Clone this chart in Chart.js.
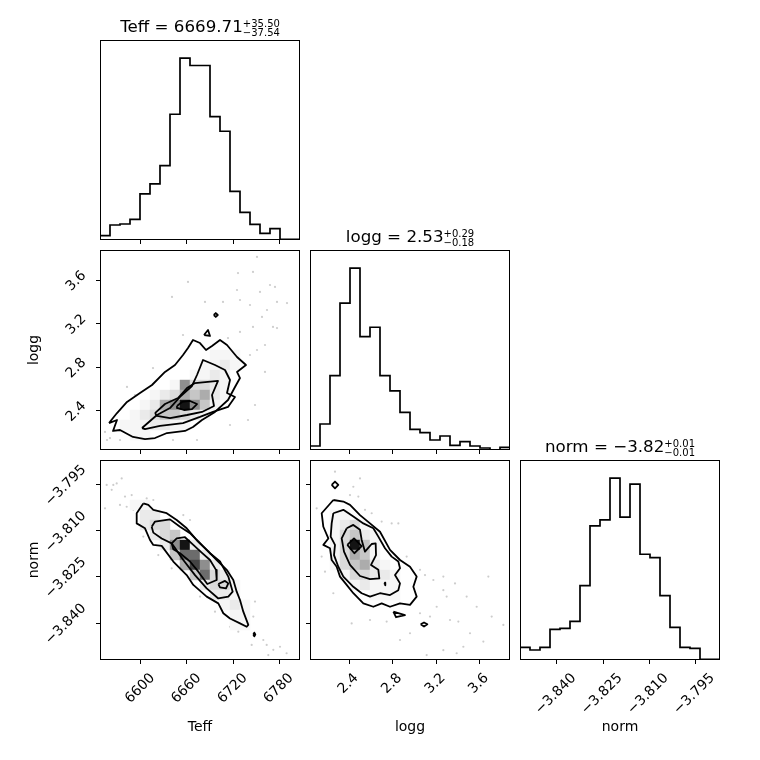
<!DOCTYPE html>
<html>
<head>
<meta charset="utf-8">
<script src="https://cdn.jsdelivr.net/npm/chart.js@4/dist/chart.umd.min.js"></script>
<style>
  body { margin: 0; background: #fff; }
  #fig { position: relative; width: 760px; height: 760px; font-family: 'DejaVu Sans', sans-serif; color: #000; overflow: hidden; }
  #fig canvas { position: absolute; }
  .title { position: absolute; width: 200px; text-align: center; font-size: 16.7px; line-height: 1; white-space: nowrap; z-index: 5; }
  .pm { display: inline-block; font-size: 10px; line-height: 9px; vertical-align: -4px; text-align: left; }
  .pm span { display: block; }
  .xlab { position: absolute; width: 200px; text-align: center; font-size: 14px; line-height: 1; top: 719px; z-index: 5; }
  .ylab { position: absolute; font-size: 14px; line-height: 1; white-space: nowrap; transform: translate(-50%, -50%) rotate(-90deg); z-index: 5; }
</style>
</head>
<body>
<div id="fig">
  <div class="title" style="left:100px;top:17.5px">Teff = 6669.71<span class="pm"><span>+35.50</span><span>−37.54</span></span></div>
  <div class="title" style="left:310px;top:227.5px">logg = 2.53<span class="pm"><span>+0.29</span><span>−0.18</span></span></div>
  <div class="title" style="left:520px;top:437.5px">norm = −3.82<span class="pm"><span>+0.01</span><span>−0.01</span></span></div>
  <div class="ylab" style="left:33px;top:350px">logg</div>
  <div class="ylab" style="left:33px;top:560px">norm</div>
  <div class="xlab" style="left:100px">Teff</div>
  <div class="xlab" style="left:310px">logg</div>
  <div class="xlab" style="left:520px">norm</div>
</div>
<script>
// axis limits and ticks
const teffRange = [6547, 6807]
const loggRange = [2.04, 3.88]
const normRange = [-3.852, -3.787]

const teffTicks = [6600, 6660, 6720, 6780]
const loggTicks = [2.4, 2.8, 3.2, 3.6]
const normTicks = [-3.840, -3.825, -3.810, -3.795]

// 1D histograms, 20 bins across each range
const teffCounts = [13, 45, 48, 62, 138, 168, 223, 377, 545, 523, 523, 370, 326, 146, 83, 47, 20, 34, 2, 2]
const loggCounts = [12, 78, 223, 440, 545, 340, 368, 223, 177, 113, 62, 52, 30, 42, 14, 25, 12, 6, 0, 8]
const normCounts = [38, 30, 38, 92, 95, 116, 223, 402, 420, 545, 428, 527, 317, 307, 193, 98, 38, 35, 2, 2]

// 2D histograms, 20x20 bins, top row first, 0 = white .. 9 = black
const teffLoggShade = [
  "00000000000000000000", "00000000000000000000", "00000000000000000000", "00000000000000000000",
  "00000000000000000000", "00000000000000000000", "00000000000000000000", "00000000000000000000",
  "00000000000000000000", "00000000000000000000", "00000000000111000000", "00000000001121000000",
  "00000000011210000000", "00000001633210000000", "00000123545210000000", "00001256964100000000",
  "00012344321000000000", "00111221100000000000", "00011000000000000000", "00000000000000000000"
]
const teffNormShade = [
  "00000000000000000000", "00000000000000000000", "00000000000000000000", "00000000000000000000",
  "00011000000000000000", "00002200000000000000", "00002330000000000000", "00000234000000000000",
  "00000026920000000000", "00000004772000000000", "00000000586200000000", "00000000047320000000",
  "00000000002331000000", "00000000000221000000", "00000000000012100000", "00000000000001100000",
  "00000000000001100000", "00000000000000000000", "00000000000000000000", "00000000000000000000"
]
const loggNormShade = [
  "00000000000000000000", "00000000000000000000", "00000000000000000000", "00000000000000000000",
  "00000000000000000000", "00110000000000000000", "00123100000000000000", "00134210000000000000",
  "00139410000000000000", "00135410000000000000", "00134521000000000000", "00013322100000000000",
  "00001211100000000000", "00000011100000000000", "00000000000000000000", "00000000000000000000",
  "00000000000000000000", "00000000000000000000", "00000000000000000000", "00000000000000000000"
]

// contour levels (2, 1.5, 1, 0.5 sigma) and small islands
const teffLoggContours = [
  [[6558.7,2.288],[6569.1,2.316],[6563.9,2.215],[6573,2.224],[6589.9,2.160],[6605.5,2.141],[6618.5,2.150],[6634.1,2.196],[6647.1,2.206],[6657.5,2.215],[6667.9,2.252],[6679.6,2.316],[6696.5,2.390],[6713.4,2.500],[6722.5,2.620],[6729,2.702],[6725.1,2.758],[6736.8,2.822],[6725.1,2.896],[6712.1,3.006],[6703,3.052],[6692.6,2.997],[6684.8,2.960],[6677,3.024],[6667.9,3.052],[6661.4,2.978],[6654.9,2.914],[6644.5,2.822],[6631.5,2.758],[6614.6,2.638],[6599,2.564],[6582.1,2.482],[6569.1,2.380]],
  [[6601.6,2.242],[6621.1,2.362],[6638,2.426],[6651,2.528],[6666.6,2.629],[6673.1,2.730],[6680.9,2.868],[6696.5,2.822],[6709.5,2.776],[6716,2.684],[6712.1,2.564],[6722.5,2.528],[6713.4,2.436],[6693.9,2.390],[6677,2.344],[6654.9,2.288],[6625,2.261],[6605.5,2.233]],
  [[6618.5,2.380],[6631.5,2.463],[6648.4,2.518],[6660.1,2.610],[6670.5,2.656],[6700.4,2.675],[6692.6,2.546],[6695.2,2.445],[6679.6,2.390],[6660.1,2.362],[6638,2.334],[6621.1,2.353]],
  [[6647.1,2.445],[6653.6,2.482],[6664,2.491],[6673.1,2.463],[6666.6,2.417],[6656.2,2.408],[6648.4,2.426]],
  [[6682.2,3.098],[6687.4,3.144],[6690,3.089]],
  [[6694.9,3.282],[6697.5,3.300],[6700.1,3.282],[6697.5,3.264]]
]
const teffNormContours = [
  [[6603.3,-3.8011],[6594.7,-3.8043],[6594.7,-3.8076],[6605.5,-3.8092],[6612,-3.8130],[6616.3,-3.8146],[6627.2,-3.8149],[6642.3,-3.8200],[6659.7,-3.8244],[6668.3,-3.8276],[6685.7,-3.8314],[6700.8,-3.8336],[6707.3,-3.8368],[6716,-3.8385],[6729,-3.8401],[6737.7,-3.8412],[6739.8,-3.8406],[6733.3,-3.8363],[6729,-3.8325],[6724.7,-3.8298],[6720.3,-3.8260],[6711.7,-3.8227],[6698.7,-3.8195],[6685.7,-3.8162],[6672.7,-3.8130],[6659.7,-3.8092],[6646.7,-3.8065],[6633.7,-3.8043],[6616.3,-3.8032],[6609.8,-3.8016]],
  [[6614.2,-3.8087],[6618.5,-3.8070],[6638,-3.8063],[6651,-3.8087],[6664,-3.8108],[6677,-3.8141],[6690,-3.8173],[6703,-3.8200],[6713.8,-3.8249],[6719.5,-3.8298],[6713.8,-3.8314],[6700.8,-3.8320],[6685.7,-3.8287],[6670.5,-3.8244],[6655.3,-3.8195],[6640.2,-3.8141],[6627.2,-3.8125],[6616.3,-3.8106]],
  [[6640.2,-3.8141],[6646.7,-3.8125],[6657.5,-3.8121],[6668.3,-3.8146],[6679.2,-3.8171],[6690,-3.8195],[6697.8,-3.8227],[6698.7,-3.8260],[6686.5,-3.8273],[6674.8,-3.8233],[6664,-3.8200],[6651,-3.8173],[6642.3,-3.8160]],
  [[6700.8,-3.8273],[6709.5,-3.8263],[6713.8,-3.8271],[6710.8,-3.8287],[6703,-3.8284]],
  [[6746.3,-3.8437],[6747.6,-3.8431],[6748.9,-3.8437],[6747.6,-3.8443]]
]
const loggNormContours = [
  [[2.2547,-3.8000],[2.3467,-3.8005],[2.408,-3.8016],[2.500,-3.8049],[2.592,-3.8076],[2.684,-3.8103],[2.776,-3.8162],[2.868,-3.8195],[2.960,-3.8217],[3.0213,-3.8249],[2.9907,-3.8282],[3.0213,-3.8314],[2.960,-3.8341],[2.868,-3.8336],[2.776,-3.8347],[2.6994,-3.8336],[2.6227,-3.8347],[2.5307,-3.8336],[2.4387,-3.8303],[2.3774,-3.8276],[2.316,-3.8249],[2.2854,-3.8217],[2.2394,-3.8195],[2.224,-3.8157],[2.1627,-3.8146],[2.2087,-3.8125],[2.1627,-3.8087],[2.1474,-3.8043]],
  [[2.2547,-3.8043],[2.3467,-3.8032],[2.4387,-3.8054],[2.5307,-3.8076],[2.6227,-3.8092],[2.6687,-3.8119],[2.730,-3.8157],[2.7914,-3.8184],[2.8527,-3.8200],[2.868,-3.8222],[2.822,-3.8244],[2.868,-3.8271],[2.8527,-3.8293],[2.776,-3.8309],[2.684,-3.8303],[2.592,-3.8314],[2.5154,-3.8303],[2.4387,-3.8282],[2.3467,-3.8249],[2.3007,-3.8217],[2.2608,-3.8179],[2.270,-3.8146],[2.2301,-3.8119],[2.2394,-3.8076]],
  [[2.3774,-3.8092],[2.4387,-3.8081],[2.500,-3.8097],[2.5154,-3.8130],[2.546,-3.8168],[2.6074,-3.8143],[2.6441,-3.8141],[2.6473,-3.8179],[2.6013,-3.8211],[2.6687,-3.8227],[2.678,-3.8255],[2.592,-3.8257],[2.500,-3.8247],[2.408,-3.8211],[2.3528,-3.8168],[2.3314,-3.8125]],
  [[2.3834,-3.8146],[2.4448,-3.8125],[2.5154,-3.8150],[2.4479,-3.8173]],
  [[2.2394,-3.7951],[2.27,-3.7940],[2.3007,-3.7951],[2.27,-3.7962]],
  [[2.8067,-3.8363],[2.914,-3.8374],[2.8313,-3.8381]],
  [[3.0582,-3.8404],[3.0889,-3.8398],[3.1196,-3.8404],[3.0889,-3.8411]],
  [[2.724,-3.8273],[2.730,-3.8269],[2.736,-3.8273],[2.730,-3.8277]]
]

// samples lying outside the outer contour
const teffLoggDots = [
  [6751.1,3.816],[6661.4,3.586],[6726.4,3.668],[6745.9,3.678],[6768,3.558],[6774.5,3.540],[6755,3.494],[6725.1,3.512],
  [6706.9,3.402],[6729,3.420],[6742,3.374],[6764.1,3.328],[6777.1,3.402],[6790.1,3.392],[6771.9,3.172],[6777.1,3.162],
  [6761.5,3.006],[6751.1,2.960],[6742,2.914],[6761.5,2.758],[6748.5,2.454],[6640.6,3.448],[6683.5,3.402],[6654.9,3.098],
  [6615.9,2.794],[6582.1,2.620],[6553.5,2.206],[6556.1,2.132],[6573,2.132],[6641.9,2.132],[6673.1,2.132],[6713.4,3.070],
  [6729,3.126],[6745.9,3.172],[6757.6,3.264],[6592.5,2.546],[6560,2.150],[6739.4,2.316],[6716,2.270]
]
const teffNormDots = [
  [6555.7,-3.7951],[6564.3,-3.7951],[6562.2,-3.7967],[6568.7,-3.7946],[6575.2,-3.7930],[6579.5,-3.7989],[6588.2,-3.7984],
  [6573,-3.8016],[6581.7,-3.8022],[6590.3,-3.8032],[6607.7,-3.7995],[6616.3,-3.8000],[6553.5,-3.8027],[6603.3,-3.8119],
  [6622.8,-3.8179],[6640.2,-3.8222],[6677,-3.8314],[6696.5,-3.8363],[6716,-3.8412],[6726.8,-3.8428],[6735.5,-3.8379],
  [6748.5,-3.8330],[6746.3,-3.8379],[6759.3,-3.8455],[6763.7,-3.8471],[6772.3,-3.8487],[6781,-3.8477],[6789.6,-3.8498],
  [6744.2,-3.8471],[6765.8,-3.8504],[6664,-3.8065],[6655.3,-3.8049]
]
const loggNormDots = [
  [2.27,-3.7908],[2.4387,-3.7957],[2.50,-3.7930],[2.408,-3.7984],[2.4847,-3.7989],[2.546,-3.8032],[2.6074,-3.8043],
  [2.6994,-3.8070],[2.7914,-3.8076],[2.8527,-3.8076],[2.1013,-3.8027],[2.1474,-3.8184],[2.178,-3.8233],[2.2547,-3.8303],
  [2.4233,-3.8401],[2.592,-3.8390],[2.7454,-3.8395],[3.052,-3.8227],[3.098,-3.8244],[3.1748,-3.8260],[3.2667,-3.8293],
  [3.2974,-3.8314],[3.2054,-3.8347],[3.052,-3.8368],[3.144,-3.8379],[3.3741,-3.8271],[3.4814,-3.8314],[3.5734,-3.8347],
  [3.6808,-3.8249],[3.7115,-3.8379],[3.8188,-3.8406],[3.328,-3.8390],[3.4047,-3.8395],[3.5121,-3.8433],[3.6348,-3.8460],
  [3.4508,-3.8477],[3.2667,-3.8488],[2.96,-3.8433],[2.868,-3.8455],[3.1134,-3.8504],[3.3894,-3.8498],[3.2667,-3.8249],[2.9294,-3.8184]
]

const greys = [255, 246, 234, 218, 198, 172, 142, 108, 68, 20]
const L = 100, T = 30, R = 30, B = 100, SIDE = 200
const tickFont = { family: 'DejaVu Sans', size: 13.9 }

const frame = {
  id: 'frame',
  afterDraw(chart) {
    const a = chart.chartArea
    const ctx = chart.ctx
    ctx.save()
    ctx.strokeStyle = '#000'
    ctx.lineWidth = 1
    ctx.strokeRect(Math.round(a.left) + 0.5, Math.round(a.top) + 0.5, Math.round(a.right - a.left) - 1, Math.round(a.bottom - a.top) - 1)
    ctx.restore()
  }
}

function makeCanvas(left, top) {
  const c = document.createElement('canvas')
  c.width = L + SIDE + R
  c.height = T + SIDE + B
  c.style.left = (left - L) + 'px'
  c.style.top = (top - T) + 'px'
  document.querySelector('#fig').appendChild(c)
  return c
}

function fmtTick(decimals) {
  return v => v.toFixed(decimals).replace('-', '\u2212')
}

function xAxis(range, ticks, showLabels, decimals, offset) {
  return {
    type: 'linear', min: range[0], max: range[1],
    afterBuildTicks: s => { s.ticks = ticks.map(v => ({ value: v })) },
    afterFit: s => { s.height = B },
    border: { display: false },
    grid: { drawOnChartArea: false, drawTicks: true, tickLength: 4, color: '#000', lineWidth: 1 },
    ticks: { display: showLabels, autoSkip: false, minRotation: 45, maxRotation: 45, padding: 6, labelOffset: offset,
      color: '#000', font: tickFont, callback: fmtTick(decimals) }
  }
}

function yAxis(range, ticks, showLabels, decimals, offset) {
  return {
    type: 'linear', min: range[0], max: range[1],
    afterBuildTicks: s => { s.ticks = ticks.map(v => ({ value: v })) },
    afterFit: s => { s.width = L },
    border: { display: false },
    grid: { drawOnChartArea: false, drawTicks: true, tickLength: 4, color: '#000', lineWidth: 1 },
    ticks: { display: showLabels, autoSkip: false, minRotation: 45, maxRotation: 45, padding: 12, labelOffset: offset,
      color: '#000', font: tickFont, callback: fmtTick(decimals) }
  }
}

function baseOptions(scales) {
  return {
    responsive: false, animation: false, events: [],
    layout: { padding: { top: T, right: R, left: 0, bottom: 0 } },
    plugins: { legend: { display: false }, tooltip: { enabled: false } },
    scales: scales
  }
}

function histChart(left, top, range, counts, xr) {
  const w = (range[1] - range[0]) / counts.length
  const pts = counts.map((c, i) => ({ x: range[0] + i * w, y: c }))
  pts.push({ x: range[1], y: counts[counts.length - 1] })
  new Chart(makeCanvas(left, top), {
    type: 'line',
    data: { datasets: [{ data: pts, stepped: true, borderColor: '#000', borderWidth: 1.7, pointRadius: 0, fill: false }] },
    options: baseOptions({
      x: xr,
      y: { type: 'linear', min: 0, max: Math.max(...counts) * 1.1, ticks: { display: false }, grid: { display: false },
        border: { display: false }, afterFit: s => { s.width = L } }
    }),
    plugins: [frame]
  })
}

function pairChart(left, top, xRange, yRange, shade, contours, dots, xr, yr) {
  const xw = (xRange[1] - xRange[0]) / 20
  const yw = (yRange[1] - yRange[0]) / 20
  const cells = []
  shade.forEach((row, r) => {
    row.split('').forEach((ch, c) => {
      const v = Number(ch)
      if (v > 0) cells.push({ x: xRange[0] + (c + 0.5) * xw, y: yRange[1] - (r + 0.5) * yw, shade: v })
    })
  })
  const datasets = contours.map(line => ({
    data: line.concat([line[0]]).map(p => ({ x: p[0], y: p[1] })),
    showLine: true, borderColor: '#000', borderWidth: 1.8, borderJoinStyle: 'round', pointRadius: 0, order: 0
  }))
  datasets.push({
    data: cells, order: 1, pointStyle: 'rect', borderWidth: 0,
    pointRadius: ctx => {
      const s = ctx.chart.scales.x
      return Math.abs(s.getPixelForValue(xRange[0] + xw) - s.getPixelForValue(xRange[0])) / 2 / Math.SQRT1_2 + 0.3
    },
    backgroundColor: ctx => {
      const g = greys[ctx.raw.shade]
      return 'rgb(' + g + ',' + g + ',' + g + ')'
    }
  })
  datasets.push({
    data: dots.map(p => ({ x: p[0], y: p[1] })), order: 2,
    pointRadius: 1.1, borderWidth: 0, backgroundColor: 'rgba(0,0,0,0.2)'
  })
  new Chart(makeCanvas(left, top), {
    type: 'scatter',
    data: { datasets: datasets },
    options: baseOptions({ x: xr, y: yr }),
    plugins: [frame]
  })
}

addEventListener('DOMContentLoaded', () => {
  histChart(100, 40, teffRange, teffCounts, xAxis(teffRange, teffTicks, false, 0, 0))
  histChart(310, 250, loggRange, loggCounts, xAxis(loggRange, loggTicks, false, 1, 0))
  histChart(520, 460, normRange, normCounts, xAxis(normRange, normTicks, true, 3, 17))

  pairChart(100, 250, teffRange, loggRange, teffLoggShade, teffLoggContours, teffLoggDots,
    xAxis(teffRange, teffTicks, false, 0, 0), yAxis(loggRange, loggTicks, true, 1, -7))
  pairChart(100, 460, teffRange, normRange, teffNormShade, teffNormContours, teffNormDots,
    xAxis(teffRange, teffTicks, true, 0, 12), yAxis(normRange, normTicks, true, 3, -17))
  pairChart(310, 460, loggRange, normRange, loggNormShade, loggNormContours, loggNormDots,
    xAxis(loggRange, loggTicks, true, 1, 7), yAxis(normRange, normTicks, false, 3, 0))
})
</script>
</body>
</html>
